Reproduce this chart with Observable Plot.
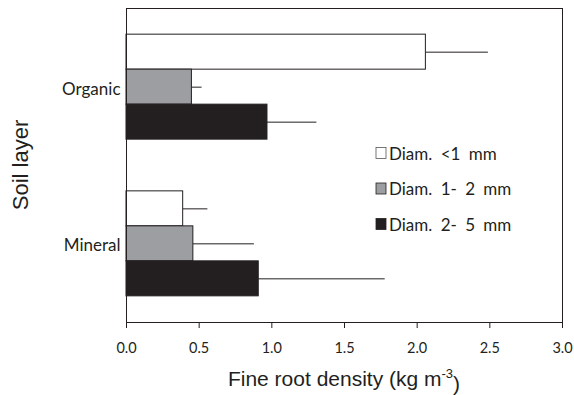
<!DOCTYPE html>
<html>
<head>
<meta charset="utf-8">
<script src="https://cdn.jsdelivr.net/npm/d3@7"></script>
<script src="https://cdn.jsdelivr.net/npm/@observablehq/plot@0.6"></script>
<style>
  html, body { margin: 0; padding: 0; background: #fff; }
  #chart svg { display: block; }
</style>
</head>
<body>
<div id="chart"></div>
<script>
// ---- data ----
const layers = ["Organic", "Mineral"];
const diameters = ["Diam. <1 mm", "Diam. 1- 2 mm", "Diam. 2- 5 mm"];
const organicValues = [2.06, 0.45, 0.97];
const organicErrors = [0.43, 0.07, 0.34];
const mineralValues = [0.39, 0.46, 0.91];
const mineralErrors = [0.17, 0.42, 0.87];
const xTicks = [0, 0.5, 1.0, 1.5, 2.0, 2.5, 3.0];
const colors = ["#ffffff", "#9d9ea1", "#231f20"];

const table = [];
diameters.forEach((d, i) => {
  table.push({layer: "Organic", diam: d, i, value: organicValues[i], err: organicErrors[i]});
  table.push({layer: "Mineral", diam: d, i, value: mineralValues[i], err: mineralErrors[i]});
});

// ---- layout ----
const W = 574, H = 395;
const mL = 126, mR = 12, mT = 8, mB = 73;
const padInner = 0.33, padOuter = 0.167;
const band = d3.scaleBand().domain(layers).range([mT, H - mB]).paddingInner(padInner).paddingOuter(padOuter);
const bw = band.bandwidth();
const barH = bw / 3;
const ink = "#231f20";

const marks = [];
diameters.forEach((d, i) => {
  const rows = table.filter(r => r.i === i);
  marks.push(Plot.ruleY(rows, {
    y: "layer", x1: "value", x2: r => r.value + r.err,
    dy: (i - 1) * barH, stroke: ink, strokeWidth: 1
  }));
  marks.push(Plot.barX(rows, {
    y: "layer", x: "value",
    insetTop: i * barH, insetBottom: (2 - i) * barH,
    fill: colors[i], stroke: ink, strokeWidth: 1
  }));
});

const plot = Plot.plot({
  width: W, height: H,
  marginLeft: mL, marginRight: mR, marginTop: mT, marginBottom: mB,
  style: {fontFamily: "Lato, 'Open Sans', sans-serif", color: ink, background: "#fff"},
  x: {domain: [0, 3], label: null},
  y: {domain: layers, paddingInner: padInner, paddingOuter: padOuter, round: false, label: null},
  marks: [
    ...marks,
    Plot.frame({stroke: ink, strokeWidth: 1}),
    Plot.axisX({ticks: xTicks, tickFormat: d3.format(".1f"), tickSize: 6, tickPadding: 14,
      fontSize: 14.5, stroke: ink, label: null}),
    Plot.axisY({tickSize: 0, tickPadding: 6, fontSize: 17, label: null, dy: 2})
  ]
});

document.getElementById("chart").appendChild(plot);

// ---- titles and legend ----
const svg = d3.select(plot);
const xr = plot.scale("x").range;
const yr = plot.scale("y").range;

const xt = svg.append("text")
  .attr("x", (xr[0] + xr[1]) / 2).attr("y", 386)
  .attr("text-anchor", "middle")
  .style("font-family", "'Liberation Sans', Arial, sans-serif")
  .style("font-size", "21px").attr("fill", ink);
xt.append("tspan").text("Fine root density (kg m");
xt.append("tspan").text("-3").attr("dy", "-0.6em").style("font-size", "13px");
xt.append("tspan").text(")").attr("dy", "0.6em");

svg.append("text")
  .attr("transform", `translate(20,${(yr[0] + yr[1]) / 2}) rotate(-90)`)
  .attr("text-anchor", "middle").attr("dominant-baseline", "central")
  .style("font-family", "'Liberation Sans', Arial, sans-serif")
  .style("font-size", "22px").attr("fill", ink)
  .text("Soil layer");

const lg = svg.append("g").attr("text-anchor", "start");
diameters.forEach((d, i) => {
  const cy = 153 + i * 35.5;
  lg.append("rect").attr("x", 376).attr("y", cy - 5.5).attr("width", 10).attr("height", 11)
    .attr("fill", colors[i]).attr("stroke", i === 0 ? "#555" : ink).attr("stroke-width", 0.8);
  lg.append("text").attr("x", 389).attr("y", cy).attr("dominant-baseline", "central")
    .attr("text-anchor", "start")
    .style("font-family", "Lato, 'Open Sans', sans-serif").style("font-size", "17px")
    .style("word-spacing", "4px")
    .attr("fill", ink).text(d);
});
</script>
</body>
</html>
